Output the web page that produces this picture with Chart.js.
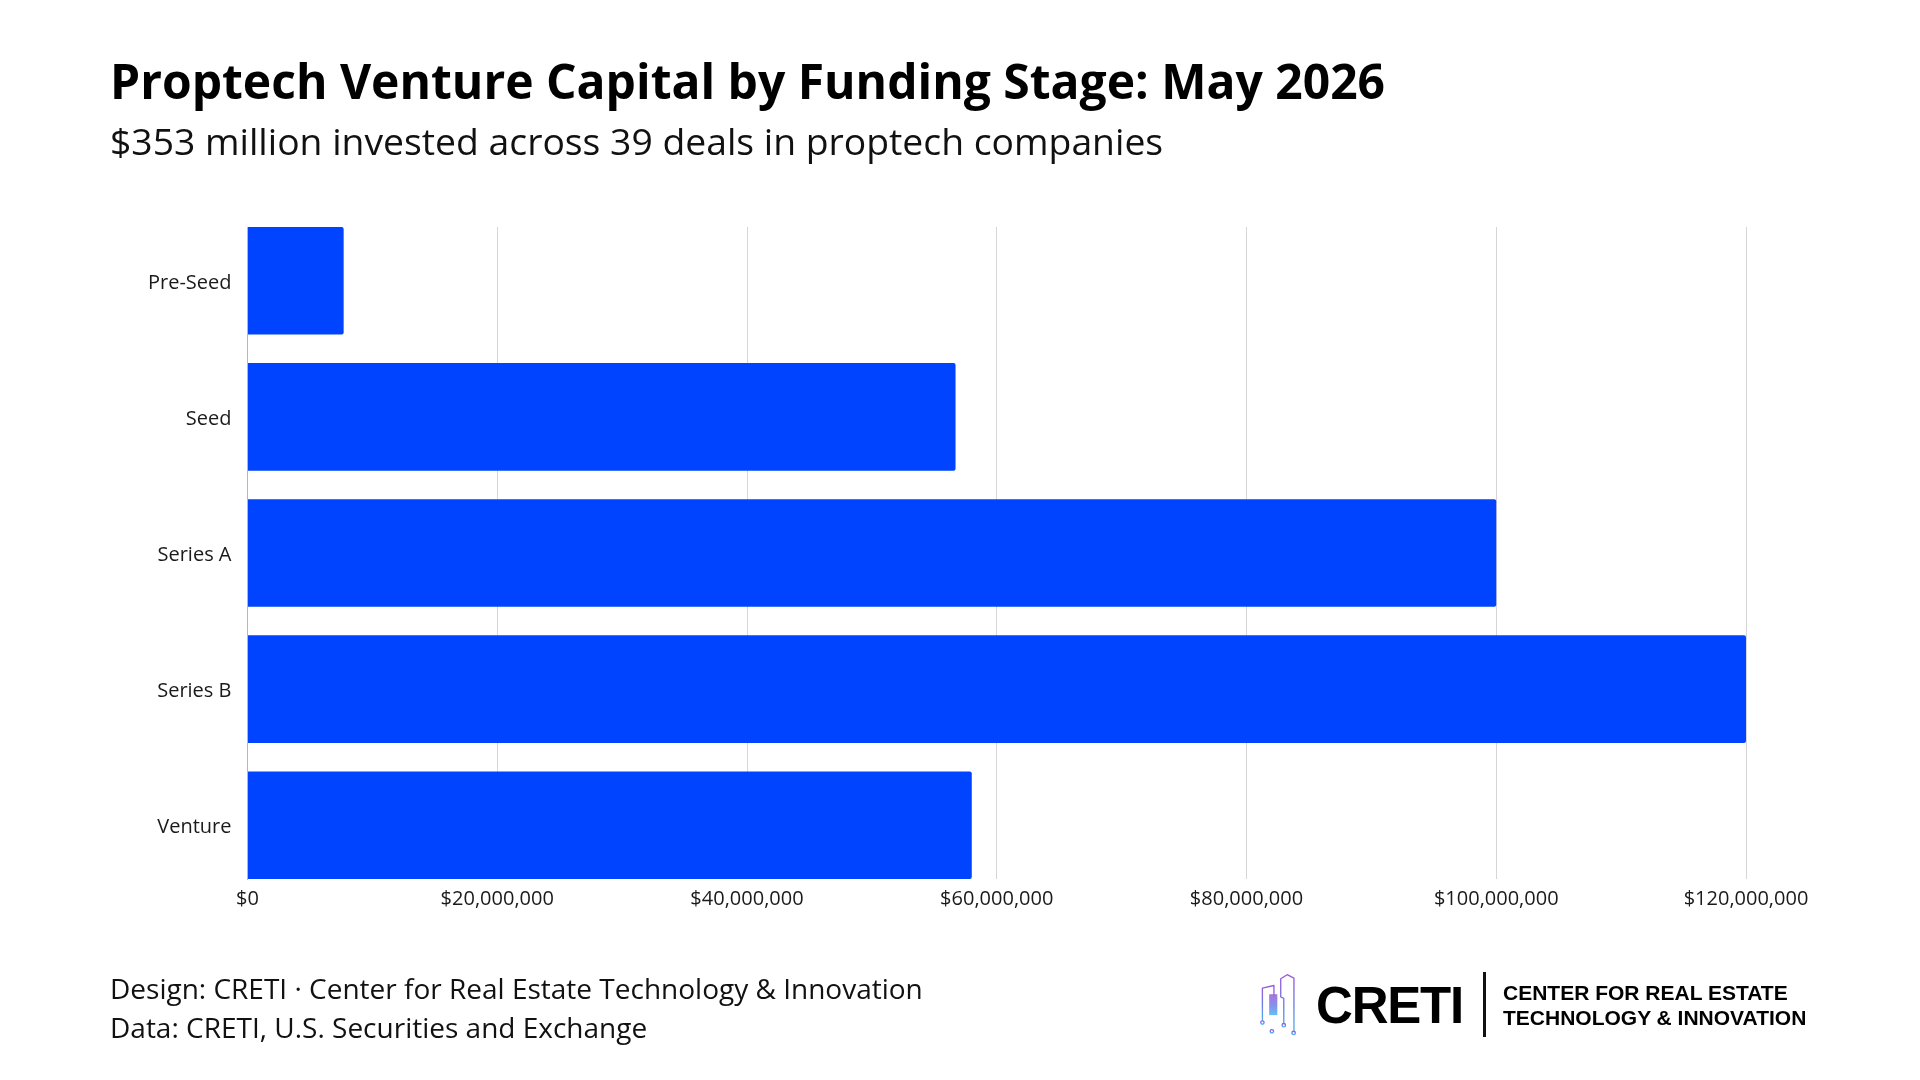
<!DOCTYPE html>
<html>
<head>
<meta charset="utf-8">
<script src="https://cdn.jsdelivr.net/npm/chart.js@4"></script>
<style>
  html, body { margin: 0; padding: 0; background: #ffffff; }
  #wrap { position: relative; width: 1920px; height: 1080px; overflow: hidden; background: #fff; }
  #chart { position: absolute; left: 0; top: 0; width: 1920px; height: 1080px; }
  .t { position: absolute; white-space: nowrap; line-height: 1; color: #000; }
  #title { left: 110px; top: 57.4px; font: 700 48px "Open Sans"; line-height: 1; }
  #subtitle { left: 110px; top: 122.4px; font: 400 37.3px "Open Sans"; line-height: 1; color: #111; }
  .foot { left: 110px; font: 400 28px "Open Sans"; line-height: 1; color: #111; }
  #logoIcon { position: absolute; left: 1259px; top: 972px; width: 38px; height: 64px; }
  #creti { left: 1316px; top: 979.8px; font: 700 51px "Liberation Sans", Arial, sans-serif; line-height: 1; letter-spacing: -1.2px; color: #000; }
  #divider { position: absolute; left: 1483px; top: 972px; width: 2.5px; height: 65px; background: #111; }
  .lt { left: 1503px; font: 700 21px "Liberation Sans", Arial, sans-serif; line-height: 1; color: #000; }
</style>
</head>
<body>
<div id="wrap">
  <canvas id="chart" width="1920" height="1080"></canvas>
  <div class="t" id="title">Proptech Venture Capital by Funding Stage: May 2026</div>
  <div class="t" id="subtitle">$353 million invested across 39 deals in proptech companies</div>
  <div class="t foot" style="top:974.1px">Design: CRETI · Center for Real Estate Technology &amp; Innovation</div>
  <div class="t foot" style="top:1013.1px">Data: CRETI, U.S. Securities and Exchange</div>

  <svg id="logoIcon" viewBox="12 22 112 190" preserveAspectRatio="none">
    <defs>
      <linearGradient id="g1" x1="0" y1="0" x2="0" y2="1">
        <stop offset="0" stop-color="#9a5bd8"/>
        <stop offset="0.55" stop-color="#6f7fe6"/>
        <stop offset="1" stop-color="#4db2f5"/>
      </linearGradient>
    </defs>
    <g fill="none" stroke="url(#g1)" stroke-width="4" stroke-linejoin="round" stroke-linecap="round">
      <path d="M22,165 L22,70 L56,62 L56,92"/>
      <path d="M50,192 L50,150"/>
      <path d="M85,174 L85,100 L76,96 L76,42 L95,30 L115,40 L115,196"/>
      <path d="M100,58 L100,150"/>
      <circle cx="22" cy="172" r="5"/>
      <circle cx="50" cy="198" r="5"/>
      <circle cx="85" cy="180" r="5"/>
      <circle cx="114" cy="203" r="5"/>
    </g>
    <rect x="42" y="88" width="24" height="62" fill="url(#g1)" opacity="0.85"/>
  </svg>
  <div class="t" id="creti">CRETI</div>
  <div id="divider"></div>
  <div class="t lt" style="top:982.2px">CENTER FOR REAL ESTATE</div>
  <div class="t lt" style="top:1007.2px">TECHNOLOGY &amp; INNOVATION</div>
</div>

<script>
// ---- data ----
const categories = ["Pre-Seed", "Seed", "Series A", "Series B", "Venture"];
const amounts = [7700000, 56700000, 100000000, 120000000, 58000000];
const xTickValues = [0, 20000000, 40000000, 60000000, 80000000, 100000000, 120000000];

const CHART_LEFT = 247.5;
const CHART_BOTTOM = 879;
const Y_MIN = -0.395;
const Y_MAX = 4.395;

const ctx = document.getElementById('chart').getContext('2d');
new Chart(ctx, {
  type: 'bar',
  data: {
    datasets: [{
      data: amounts.map((v, i) => ({ x: v, y: i })),
      backgroundColor: '#0044ff',
      borderWidth: 0,
      borderRadius: 2,
      borderSkipped: 'start',
      categoryPercentage: 1,
      barPercentage: 0.79
    }]
  },
  options: {
    indexAxis: 'y',
    responsive: false,
    animation: false,
    devicePixelRatio: 1,
    layout: { padding: { left: 0, top: 227, right: 174, bottom: 0 } },
    plugins: { legend: { display: false }, tooltip: { enabled: false }, title: { display: false } },
    scales: {
      x: {
        type: 'linear',
        position: 'bottom',
        min: 0,
        max: 120000000,
        afterBuildTicks: (scale) => { scale.ticks = xTickValues.map(v => ({ value: v })); },
        afterFit: (scale) => { scale.height = 1080 - CHART_BOTTOM; },
        grid: { color: '#d6d6d6', lineWidth: 1, drawTicks: false },
        border: { display: false },
        ticks: {
          padding: 8,
          color: '#1a1a1a',
          font: { family: 'Open Sans', size: 20 },
          maxRotation: 0,
          autoSkip: false,
          callback: (v) => '$' + Number(v).toLocaleString('en-US')
        }
      },
      y: {
        type: 'linear',
        position: 'left',
        reverse: true,
        offset: false,
        bounds: 'data',
        min: Y_MIN,
        max: Y_MAX,
        afterBuildTicks: (scale) => {
          scale.ticks = categories.map((_, i) => ({ value: i }));
        },
        afterFit: (scale) => { scale.width = CHART_LEFT; },
        grid: { display: false, drawTicks: false, offset: false },
        border: { display: true, color: '#b8b8b8', width: 1 },
        ticks: {
          padding: 16,
          color: '#1a1a1a',
          font: { family: 'Open Sans', size: 20, lineHeight: '5px' },
          autoSkip: false,
          callback: (v) => ['', categories[v]]
        }
      }
    }
  }
});
</script>
</body>
</html>
